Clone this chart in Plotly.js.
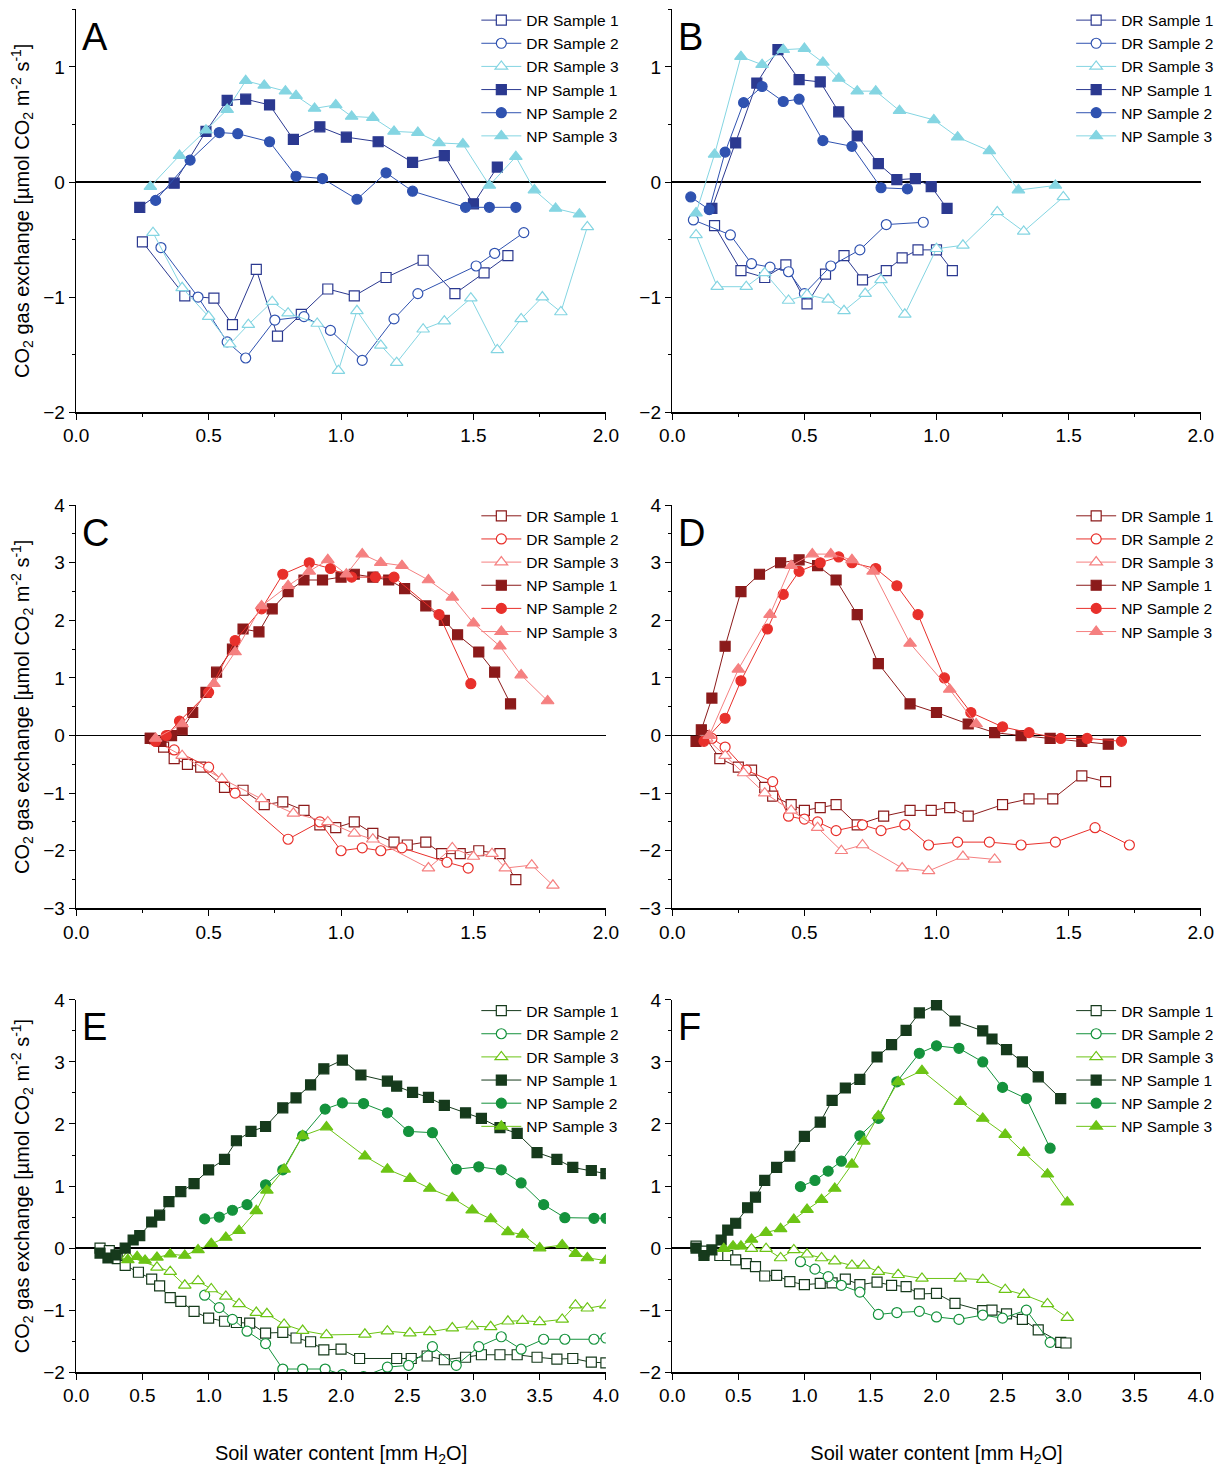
<!DOCTYPE html>
<html>
<head>
<meta charset="utf-8">
<script src="https://cdn.plot.ly/plotly-3.0.1.min.js"></script>
<style>body{margin:0;background:#fff}#plot{width:1229px;height:1477px}</style>
</head>
<body>
<div id="plot"></div>
<script>
// series names
var names = ['DR Sample 1','DR Sample 2','DR Sample 3','NP Sample 1','NP Sample 2','NP Sample 3'];

// panel A
var A_DR1_X = [0.25,0.41,0.52,0.59,0.68,0.76,0.85,0.95,1.05,1.17,1.31,1.43,1.54,1.63];
var A_DR1_Y = [-0.52,-0.99,-1.01,-1.24,-0.76,-1.34,-1.15,-0.93,-0.99,-0.83,-0.68,-0.97,-0.79,-0.64];
var A_DR2_X = [0.32,0.46,0.57,0.64,0.75,0.86,0.96,1.08,1.2,1.29,1.51,1.58,1.69];
var A_DR2_Y = [-0.57,-1.0,-1.39,-1.53,-1.2,-1.17,-1.29,-1.55,-1.19,-0.97,-0.73,-0.62,-0.44];
var A_DR3_X = [0.29,0.4,0.5,0.58,0.65,0.74,0.8,0.91,0.99,1.06,1.15,1.21,1.31,1.39,1.49,1.59,1.68,1.76,1.83,1.93];
var A_DR3_Y = [-0.44,-0.92,-1.17,-1.41,-1.24,-1.04,-1.14,-1.23,-1.64,-1.12,-1.42,-1.57,-1.28,-1.21,-1.01,-1.46,-1.19,-1.0,-1.13,-0.39];
var A_NP1_X = [0.24,0.37,0.49,0.57,0.64,0.73,0.82,0.92,1.02,1.14,1.27,1.39,1.5,1.59];
var A_NP1_Y = [-0.22,-0.01,0.44,0.71,0.72,0.67,0.37,0.48,0.39,0.35,0.17,0.23,-0.19,0.13];
var A_NP2_X = [0.3,0.43,0.54,0.61,0.73,0.83,0.93,1.06,1.17,1.27,1.47,1.56,1.66];
var A_NP2_Y = [-0.16,0.19,0.43,0.42,0.35,0.05,0.03,-0.15,0.08,-0.08,-0.22,-0.22,-0.22];
var A_NP3_X = [0.28,0.39,0.49,0.57,0.64,0.71,0.79,0.83,0.9,0.98,1.04,1.12,1.2,1.29,1.37,1.46,1.56,1.66,1.73,1.81,1.9];
var A_NP3_Y = [-0.04,0.23,0.45,0.63,0.88,0.84,0.79,0.75,0.64,0.67,0.57,0.56,0.44,0.43,0.34,0.33,-0.03,0.22,-0.07,-0.23,-0.28];

// panel B
var B_DR1_X = [0.16,0.26,0.35,0.43,0.51,0.58,0.65,0.72,0.81,0.87,0.93,1.0,1.06];
var B_DR1_Y = [-0.38,-0.77,-0.83,-0.72,-1.06,-0.8,-0.64,-0.85,-0.77,-0.66,-0.59,-0.59,-0.77];
var B_DR2_X = [0.08,0.22,0.3,0.37,0.44,0.5,0.6,0.71,0.81,0.95];
var B_DR2_Y = [-0.33,-0.46,-0.71,-0.74,-0.78,-0.97,-0.73,-0.59,-0.37,-0.35];
var B_DR3_X = [0.09,0.17,0.28,0.35,0.44,0.51,0.59,0.65,0.73,0.79,0.88,1.0,1.1,1.23,1.33,1.48];
var B_DR3_Y = [-0.46,-0.91,-0.91,-0.79,-1.03,-0.98,-1.02,-1.12,-0.97,-0.85,-1.15,-0.58,-0.55,-0.26,-0.43,-0.13];
var B_NP1_X = [0.15,0.24,0.32,0.4,0.48,0.56,0.63,0.7,0.78,0.85,0.92,0.98,1.04];
var B_NP1_Y = [-0.23,0.34,0.86,1.15,0.89,0.87,0.61,0.4,0.16,0.02,0.03,-0.04,-0.23];
var B_NP2_X = [0.07,0.14,0.2,0.27,0.34,0.42,0.48,0.57,0.68,0.79,0.89];
var B_NP2_Y = [-0.13,-0.24,0.26,0.69,0.83,0.7,0.72,0.36,0.31,-0.05,-0.06];
var B_NP3_X = [0.09,0.16,0.26,0.34,0.42,0.5,0.57,0.63,0.7,0.77,0.86,0.99,1.08,1.2,1.31,1.45];
var B_NP3_Y = [-0.27,0.24,1.09,1.02,1.15,1.16,1.04,0.9,0.79,0.79,0.62,0.54,0.39,0.27,-0.07,-0.03];

// panel C
var C_DR1_X = [0.28,0.33,0.37,0.42,0.47,0.56,0.63,0.71,0.78,0.86,0.92,0.98,1.05,1.12,1.2,1.25,1.32,1.38,1.45,1.52,1.6,1.66];
var C_DR1_Y = [-0.05,-0.2,-0.4,-0.5,-0.55,-0.9,-0.95,-1.2,-1.15,-1.3,-1.55,-1.6,-1.5,-1.7,-1.85,-1.9,-1.85,-2.05,-2.05,-2.0,-2.05,-2.5];
var C_DR2_X = [0.3,0.37,0.5,0.6,0.8,0.92,1.0,1.08,1.15,1.23,1.4,1.48];
var C_DR2_Y = [-0.1,-0.25,-0.55,-1.0,-1.8,-1.5,-2.0,-1.95,-2.0,-1.95,-2.2,-2.3];
var C_DR3_X = [0.3,0.4,0.55,0.7,0.82,0.95,1.05,1.12,1.33,1.42,1.5,1.57,1.62,1.72,1.8];
var C_DR3_Y = [-0.1,-0.35,-0.75,-1.1,-1.35,-1.5,-1.7,-1.8,-2.3,-1.95,-2.1,-2.05,-2.3,-2.25,-2.6];
var C_NP1_X = [0.28,0.32,0.36,0.4,0.44,0.49,0.53,0.59,0.63,0.69,0.74,0.8,0.86,0.93,1.0,1.05,1.12,1.18,1.24,1.32,1.39,1.44,1.52,1.58,1.64];
var C_NP1_Y = [-0.05,-0.1,0.0,0.1,0.4,0.75,1.1,1.5,1.85,1.8,2.2,2.5,2.7,2.7,2.75,2.8,2.75,2.7,2.55,2.25,2.0,1.75,1.45,1.1,0.55];
var C_NP2_X = [0.3,0.34,0.39,0.5,0.6,0.7,0.78,0.88,0.96,1.04,1.13,1.2,1.37,1.49];
var C_NP2_Y = [-0.1,0.0,0.25,0.75,1.65,2.2,2.8,3.0,2.9,2.75,2.75,2.75,2.1,0.9];
var C_NP3_X = [0.3,0.4,0.52,0.6,0.7,0.8,0.88,0.95,1.02,1.08,1.15,1.23,1.33,1.42,1.5,1.6,1.68,1.78];
var C_NP3_Y = [-0.05,0.2,0.9,1.45,2.25,2.6,2.85,3.05,2.8,3.15,3.0,2.95,2.7,2.4,1.95,1.55,1.05,0.6];

// panel D
var D_DR1_X = [0.12,0.18,0.25,0.3,0.35,0.38,0.45,0.5,0.56,0.62,0.7,0.8,0.9,0.98,1.05,1.12,1.25,1.35,1.44,1.55,1.64];
var D_DR1_Y = [0.0,-0.4,-0.55,-0.6,-0.9,-1.05,-1.2,-1.3,-1.25,-1.2,-1.55,-1.4,-1.3,-1.3,-1.25,-1.4,-1.2,-1.1,-1.1,-0.7,-0.8];
var D_DR2_X = [0.15,0.2,0.28,0.38,0.44,0.5,0.55,0.62,0.72,0.79,0.88,0.97,1.08,1.2,1.32,1.45,1.6,1.73];
var D_DR2_Y = [-0.05,-0.2,-0.6,-0.8,-1.4,-1.45,-1.5,-1.65,-1.55,-1.65,-1.55,-1.9,-1.85,-1.85,-1.9,-1.85,-1.6,-1.9];
var D_DR3_X = [0.13,0.2,0.27,0.35,0.45,0.55,0.64,0.72,0.87,0.97,1.1,1.22];
var D_DR3_Y = [-0.05,-0.35,-0.65,-1.0,-1.3,-1.6,-2.0,-1.9,-2.3,-2.35,-2.1,-2.15];
var D_NP1_X = [0.09,0.11,0.15,0.2,0.26,0.33,0.41,0.48,0.55,0.62,0.7,0.78,0.9,1.0,1.12,1.22,1.32,1.43,1.55,1.65];
var D_NP1_Y = [-0.1,0.1,0.65,1.55,2.5,2.8,3.0,3.05,2.95,2.7,2.1,1.25,0.55,0.4,0.2,0.05,0.0,-0.05,-0.1,-0.15];
var D_NP2_X = [0.12,0.2,0.26,0.36,0.42,0.48,0.56,0.63,0.68,0.77,0.85,0.93,1.03,1.13,1.25,1.35,1.47,1.57,1.7];
var D_NP2_Y = [-0.1,0.3,0.95,1.85,2.45,2.85,3.0,3.1,3.0,2.9,2.6,2.1,1.0,0.4,0.15,0.05,-0.05,-0.05,-0.1];
var D_NP3_X = [0.14,0.25,0.37,0.45,0.53,0.6,0.68,0.76,0.9,1.05,1.15];
var D_NP3_Y = [0.0,1.15,2.1,2.95,3.15,3.15,3.05,2.85,1.6,0.8,0.2];

// panel E
var E_DR1_X = [0.18,0.25,0.31,0.37,0.47,0.57,0.63,0.71,0.79,0.89,1.0,1.12,1.21,1.31,1.43,1.56,1.66,1.77,1.87,2.0,2.14,2.42,2.53,2.65,2.78,2.94,3.06,3.2,3.33,3.48,3.63,3.75,3.89,4.0];
var E_DR1_Y = [0.0,-0.04,-0.17,-0.28,-0.39,-0.5,-0.61,-0.8,-0.86,-1.02,-1.13,-1.18,-1.2,-1.21,-1.37,-1.36,-1.45,-1.51,-1.64,-1.63,-1.78,-1.78,-1.78,-1.74,-1.8,-1.76,-1.72,-1.72,-1.72,-1.76,-1.79,-1.78,-1.84,-1.85];
var E_DR2_X = [0.97,1.08,1.18,1.29,1.43,1.56,1.71,1.88,2.01,2.17,2.35,2.51,2.69,2.87,3.04,3.21,3.36,3.53,3.69,3.91,4.0];
var E_DR2_Y = [-0.76,-0.96,-1.15,-1.34,-1.54,-1.95,-1.95,-1.95,-2.04,-2.07,-1.92,-1.89,-1.59,-1.89,-1.59,-1.43,-1.63,-1.47,-1.47,-1.47,-1.45];
var E_DR3_X = [0.39,0.61,0.71,0.82,0.92,1.02,1.13,1.23,1.36,1.44,1.57,1.71,1.89,2.18,2.35,2.52,2.67,2.84,2.99,3.13,3.26,3.37,3.5,3.67,3.77,3.86,4.0];
var E_DR3_Y = [-0.13,-0.31,-0.38,-0.6,-0.53,-0.66,-0.78,-0.9,-1.04,-1.06,-1.23,-1.33,-1.4,-1.39,-1.34,-1.37,-1.35,-1.29,-1.26,-1.27,-1.18,-1.17,-1.19,-1.15,-0.92,-0.97,-0.92];
var E_NP1_X = [0.18,0.24,0.3,0.37,0.43,0.48,0.57,0.63,0.7,0.79,0.89,1.0,1.12,1.21,1.32,1.43,1.56,1.66,1.77,1.87,2.01,2.15,2.35,2.42,2.54,2.66,2.78,2.94,3.06,3.2,3.33,3.48,3.63,3.75,3.89,4.0];
var E_NP1_Y = [-0.08,-0.16,-0.11,0.0,0.13,0.2,0.42,0.53,0.75,0.91,1.04,1.26,1.43,1.73,1.88,1.96,2.26,2.42,2.63,2.89,3.03,2.79,2.69,2.61,2.51,2.43,2.3,2.18,2.09,1.94,1.85,1.54,1.43,1.3,1.25,1.2];
var E_NP2_X = [0.97,1.08,1.18,1.29,1.43,1.56,1.71,1.88,2.01,2.17,2.35,2.51,2.69,2.87,3.04,3.21,3.36,3.53,3.69,3.91,4.0];
var E_NP2_Y = [0.47,0.5,0.61,0.7,1.02,1.26,1.81,2.24,2.34,2.33,2.18,1.88,1.86,1.27,1.31,1.26,1.05,0.7,0.49,0.48,0.48];
var E_NP3_X = [0.39,0.46,0.52,0.61,0.71,0.82,0.92,1.02,1.13,1.23,1.36,1.44,1.57,1.71,1.89,2.18,2.35,2.52,2.67,2.84,2.99,3.13,3.26,3.37,3.5,3.67,3.77,3.86,4.0];
var E_NP3_Y = [-0.19,-0.14,-0.2,-0.15,-0.1,-0.12,-0.03,0.07,0.17,0.28,0.6,0.93,1.27,1.81,1.95,1.48,1.27,1.12,0.96,0.81,0.61,0.47,0.26,0.22,0.0,0.05,-0.09,-0.16,-0.2];

// panel F
var F_DR1_X = [0.18,0.24,0.36,0.42,0.48,0.56,0.63,0.7,0.79,0.89,1.0,1.12,1.21,1.31,1.42,1.55,1.66,1.77,1.87,2.0,2.14,2.35,2.42,2.53,2.65,2.77,2.94,2.98];
var F_DR1_Y = [0.03,-0.05,-0.12,-0.12,-0.19,-0.25,-0.3,-0.45,-0.44,-0.54,-0.59,-0.57,-0.56,-0.5,-0.59,-0.55,-0.6,-0.62,-0.74,-0.73,-0.89,-1.01,-1.0,-1.06,-1.15,-1.32,-1.52,-1.53];
var F_DR2_X = [0.97,1.08,1.18,1.28,1.42,1.56,1.7,1.87,2.0,2.17,2.35,2.5,2.68,2.86];
var F_DR2_Y = [-0.22,-0.34,-0.46,-0.6,-0.71,-1.07,-1.04,-1.02,-1.11,-1.15,-1.08,-1.13,-1.0,-1.52];
var F_DR3_X = [0.39,0.6,0.71,0.82,0.92,1.02,1.13,1.23,1.36,1.45,1.56,1.71,1.89,2.18,2.35,2.52,2.66,2.84,2.99];
var F_DR3_Y = [-0.01,-0.01,-0.01,-0.16,-0.03,-0.1,-0.16,-0.21,-0.28,-0.28,-0.38,-0.43,-0.49,-0.49,-0.51,-0.67,-0.75,-0.9,-1.12];
var F_NP1_X = [0.18,0.24,0.3,0.37,0.42,0.48,0.57,0.63,0.7,0.79,0.89,1.0,1.12,1.21,1.31,1.42,1.55,1.66,1.77,1.87,2.0,2.14,2.35,2.42,2.53,2.65,2.77,2.94];
var F_NP1_Y = [0.0,-0.12,-0.03,0.13,0.29,0.4,0.65,0.82,1.09,1.3,1.48,1.8,2.03,2.38,2.58,2.72,3.08,3.28,3.51,3.79,3.92,3.66,3.5,3.37,3.2,3.0,2.76,2.41];
var F_NP2_X = [0.97,1.08,1.18,1.28,1.42,1.56,1.7,1.87,2.0,2.17,2.35,2.5,2.68,2.86];
var F_NP2_Y = [0.99,1.09,1.24,1.4,1.81,2.09,2.68,3.14,3.26,3.22,3.0,2.59,2.41,1.61];
var F_NP3_X = [0.39,0.46,0.52,0.6,0.71,0.82,0.92,1.02,1.13,1.23,1.36,1.45,1.56,1.71,1.89,2.18,2.35,2.52,2.66,2.84,2.99];
var F_NP3_Y = [-0.01,0.03,0.03,0.14,0.25,0.31,0.46,0.62,0.78,0.96,1.35,1.72,2.13,2.68,2.86,2.36,2.09,1.83,1.54,1.19,0.74];

var blues = ['#2b3990','#2f52b0','#84d5e2'];
var reds = ['#8b1a1a','#e8302b','#f58080'];
var greens = ['#163a1c','#14923c','#6cc415'];
var symbols = ['square','circle','triangle-up'];

var panels = [
  {id:'A', ax:'', cols:blues, data:[[A_DR1_X,A_DR1_Y],[A_DR2_X,A_DR2_Y],[A_DR3_X,A_DR3_Y],[A_NP1_X,A_NP1_Y],[A_NP2_X,A_NP2_Y],[A_NP3_X,A_NP3_Y]]},
  {id:'B', ax:'2', cols:blues, data:[[B_DR1_X,B_DR1_Y],[B_DR2_X,B_DR2_Y],[B_DR3_X,B_DR3_Y],[B_NP1_X,B_NP1_Y],[B_NP2_X,B_NP2_Y],[B_NP3_X,B_NP3_Y]]},
  {id:'C', ax:'3', cols:reds, data:[[C_DR1_X,C_DR1_Y],[C_DR2_X,C_DR2_Y],[C_DR3_X,C_DR3_Y],[C_NP1_X,C_NP1_Y],[C_NP2_X,C_NP2_Y],[C_NP3_X,C_NP3_Y]]},
  {id:'D', ax:'4', cols:reds, data:[[D_DR1_X,D_DR1_Y],[D_DR2_X,D_DR2_Y],[D_DR3_X,D_DR3_Y],[D_NP1_X,D_NP1_Y],[D_NP2_X,D_NP2_Y],[D_NP3_X,D_NP3_Y]]},
  {id:'E', ax:'5', cols:greens, data:[[E_DR1_X,E_DR1_Y],[E_DR2_X,E_DR2_Y],[E_DR3_X,E_DR3_Y],[E_NP1_X,E_NP1_Y],[E_NP2_X,E_NP2_Y],[E_NP3_X,E_NP3_Y]]},
  {id:'F', ax:'6', cols:greens, data:[[F_DR1_X,F_DR1_Y],[F_DR2_X,F_DR2_Y],[F_DR3_X,F_DR3_Y],[F_NP1_X,F_NP1_Y],[F_NP2_X,F_NP2_Y],[F_NP3_X,F_NP3_Y]]}
];

var xdom = [[0.062,0.493],[0.547,0.977]];
var ydom = [[0.721,0.9936],[0.385,0.658],[0.071,0.323]];
var yranges = [[-2,1.5],[-3,4],[-2,4]];
var xranges = [[0,2],[0,2],[0,4]];

var traces = [];
var layout = {
  width:1229, height:1477, showlegend:true,
  margin:{l:0,r:0,t:0,b:0},
  paper_bgcolor:'#fff', plot_bgcolor:'#fff',
  font:{family:'Arial, Liberation Sans, sans-serif', size:19, color:'#000'},
  annotations:[], shapes:[]
};

panels.forEach(function(p, i){
  var row = Math.floor(i/2), col = i%2;
  var leg = i === 0 ? 'legend' : 'legend' + (i+1);
  p.data.forEach(function(d, j){
    var c = p.cols[j%3];
    traces.push({
      x:d[0], y:d[1], type:'scatter', mode:'lines+markers', name:names[j],
      xaxis:'x'+p.ax, yaxis:'y'+p.ax, legend:leg,
      line:{color:c, width:1},
      marker:{symbol:symbols[j%3], size:j%3===2 ? 11 : 10, color: j<3 ? '#fff' : c, line:{color:c, width:1.2}}
    });
  });
  var axis = {
    domain:xdom[col], range:xranges[row], dtick:0.5, tickformat:'.1f',
    showgrid:false, zeroline:false, showline:true, linecolor:'#000', linewidth:1.5,
    ticks:'outside', ticklen:6, tickcolor:'#000', anchor:'y'+p.ax,
    minor:{ticks:'outside', ticklen:3, dtick:xranges[row][1]/8, tickcolor:'#000'}
  };
  if (row === 2) axis.title = {text:'Soil water content [mm H<sub>2</sub>O]', font:{size:20}, standoff:40};
  var yaxis = {
    domain:ydom[row], range:yranges[row], dtick:1,
    showgrid:false, zeroline:true, zerolinecolor:'#000', zerolinewidth:1.5,
    showline:true, linecolor:'#000', linewidth:1.5,
    ticks:'outside', ticklen:6, tickcolor:'#000', anchor:'x'+p.ax,
    minor:{ticks:'outside', ticklen:3, dtick:0.5, tickcolor:'#000'}
  };
  if (col === 0) yaxis.title = {text:'CO<sub>2</sub> gas exchange [µmol CO<sub>2</sub> m<sup>-2</sup> s<sup>-1</sup>]', font:{size:20}, standoff:8};
  layout['xaxis'+p.ax] = axis;
  layout['yaxis'+p.ax] = yaxis;
  layout[leg] = {
    x:xdom[col][1]+0.015, y:ydom[row][1]+0.004, xanchor:'right', yanchor:'top',
    bgcolor:'rgba(255,255,255,0)', font:{size:15.5}, tracegroupgap:0, itemwidth:40
  };
  layout.annotations.push({
    text:p.id, xref:'paper', yref:'paper', x:xdom[col][0]+0.003, y:ydom[row][1]-0.003,
    xanchor:'left', yanchor:'top', showarrow:false, font:{size:38}
  });
});

Plotly.newPlot('plot', traces, layout, {staticPlot:true});
</script>
</body>
</html>
